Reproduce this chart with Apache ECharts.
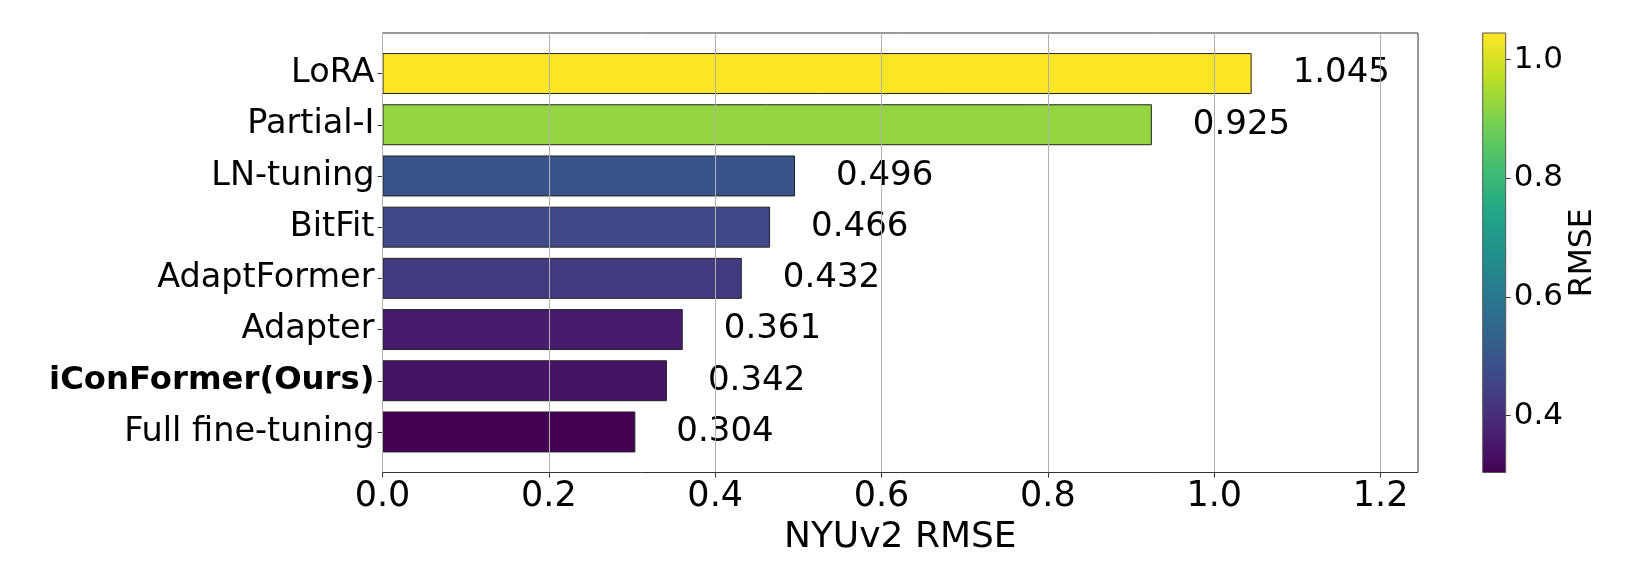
<!DOCTYPE html>
<html>
<head>
<meta charset="utf-8">
<script src="https://cdn.jsdelivr.net/npm/echarts@6/dist/echarts.min.js"></script>
<style>
html,body{margin:0;padding:0;background:#fff;}
#chart{width:1627px;height:581px;}
</style>
</head>
<body>
<div id="chart"></div>
<script>
const categories = ['LoRA', 'Partial-I', 'LN-tuning', 'BitFit', 'AdaptFormer', 'Adapter', 'iConFormer(Ours)', 'Full fine-tuning'];
const values = [1.045, 0.925, 0.496, 0.466, 0.432, 0.361, 0.342, 0.304];
const xTicks = [0, 0.2, 0.4, 0.6, 0.8, 1.0, 1.2];
const cbTicks = [0.4, 0.6, 0.8, 1.0];
const boldCategory = 'iConFormer(Ours)';

const viridis = ['#440154','#482475','#414487','#355f8d','#2a788e','#21918c','#22a884','#44bf70','#7ad151','#bddf26','#fde725'];
const vmin = Math.min(...values), vmax = Math.max(...values);

function hex2rgb(h){return [parseInt(h.slice(1,3),16),parseInt(h.slice(3,5),16),parseInt(h.slice(5,7),16)];}
function cmap(t){
  t = Math.max(0, Math.min(1, t));
  const n = viridis.length - 1;
  const i = Math.min(n - 1, Math.floor(t * n));
  const f = t * n - i;
  const a = hex2rgb(viridis[i]), b = hex2rgb(viridis[i+1]);
  const c = a.map((v,k)=>Math.round(v + (b[k]-v)*f));
  return 'rgb(' + c.join(',') + ')';
}

const FONT = 'DejaVu Sans';
const L = 382.5, W = 1035.5, T = 33, H = 439.5;
const band = 51.2;
const barsH = band * categories.length;
const barsT = T + (H - barsH) / 2;
const xMax = 1.245;

const chart = echarts.init(document.getElementById('chart'), null, {renderer: 'canvas'});
chart.setOption({
  backgroundColor: '#ffffff',
  animation: false,
  textStyle: {fontFamily: FONT},
  grid: [
    {left: L, top: T, width: W, height: H, show: true, borderColor: '#333', borderWidth: 1, backgroundColor: 'transparent', z: 0},
    {left: L, top: barsT, width: W, height: barsH},
    {left: 1482.7, top: T, width: 23, height: H, show: true, borderColor: '#555', borderWidth: 1, z: 10}
  ],
  xAxis: [
    {
      gridIndex: 0, type: 'value', min: 0, max: xMax,
      z: 10,
      axisLine: {show: false},
      axisTick: {show: true, length: 5, lineStyle: {color: '#333'}, customValues: xTicks},
      axisLabel: {fontSize: 35, color: '#000', fontFamily: FONT, margin: 7, customValues: xTicks,
        formatter: v => v.toFixed(1)},
      splitLine: {show: true, lineStyle: {color: '#b0b0b0', width: 1}},
      name: 'NYUv2 RMSE', nameLocation: 'middle', nameGap: 37,
      nameTextStyle: {fontSize: 36, color: '#000', fontFamily: FONT}
    },
    {gridIndex: 1, type: 'value', min: 0, max: xMax, show: false},
    {gridIndex: 2, type: 'category', data: ['cb'], show: false}
  ],
  yAxis: [
    {gridIndex: 0, type: 'value', show: false},
    {
      gridIndex: 1, type: 'category', data: categories, inverse: true,
      axisLine: {show: false},
      axisTick: {show: true, length: 5, alignWithLabel: true, lineStyle: {color: '#333'}},
      axisLabel: {
        fontSize: 33.5, color: '#000', fontFamily: FONT, margin: 8,
        formatter: v => v === boldCategory ? '{b|' + v + '}' : v,
        rich: {b: {fontSize: 32.3, fontWeight: 'bold', color: '#000', fontFamily: FONT}}
      },
      splitLine: {show: false}
    },
    {
      gridIndex: 2, type: 'value', min: vmin, max: vmax, position: 'right',
      axisLine: {show: false},
      axisTick: {show: true, length: 5, lineStyle: {color: '#333'}, customValues: cbTicks},
      axisLabel: {fontSize: 31, color: '#000', fontFamily: FONT, margin: 8, customValues: cbTicks,
        formatter: v => v.toFixed(1)},
      splitLine: {show: false},
      name: 'RMSE', nameLocation: 'middle', nameRotate: 90, nameGap: 54,
      nameTextStyle: {fontSize: 31.5, color: '#000', fontFamily: FONT}
    }
  ],
  series: [
    {
      type: 'bar', xAxisIndex: 1, yAxisIndex: 1, data: values, barWidth: '80%',
      z: 2,
      itemStyle: {
        color: p => cmap((p.value - vmin) / (vmax - vmin)),
        borderColor: '#222', borderWidth: 1
      },
      label: {
        show: true, position: 'right', distance: 41, fontSize: 34, color: '#000', fontFamily: FONT,
        formatter: p => p.value.toFixed(3)
      }
    },
    {
      type: 'bar', xAxisIndex: 2, yAxisIndex: 2, stack: 'cb', data: [vmin], barWidth: '100%',
      itemStyle: {color: 'rgba(0,0,0,0)'}, silent: true
    },
    {
      type: 'bar', xAxisIndex: 2, yAxisIndex: 2, stack: 'cb', data: [vmax - vmin], barWidth: '100%',
      silent: true,
      itemStyle: {
        color: new echarts.graphic.LinearGradient(0, 1, 0, 0,
          viridis.map((c, i) => ({offset: i / (viridis.length - 1), color: c})))
      }
    }
  ]
});
</script>
</body>
</html>
